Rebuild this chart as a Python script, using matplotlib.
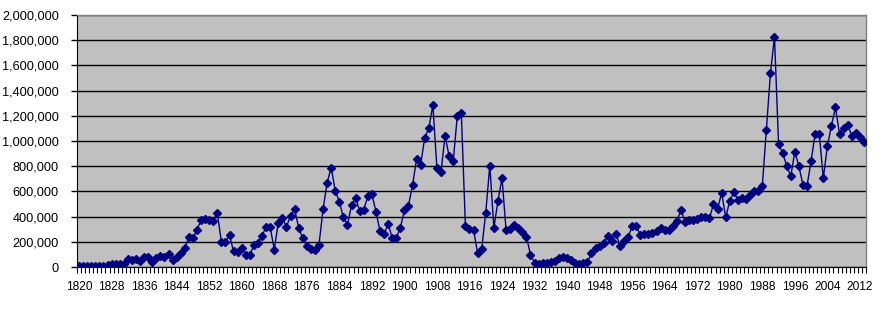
import matplotlib
matplotlib.use("Agg")
import matplotlib.pyplot as plt
from matplotlib.ticker import FuncFormatter, FixedLocator

years = list(range(1820, 2014))
immigrants = [
    8385, 9127, 6911, 6354, 7912, 10199, 10837, 18875, 27382, 22520,
    23322, 22633, 60482, 58640, 65365, 45374, 76242, 79340, 38914, 68069,
    84066, 80289, 104565, 52496, 78615, 114371, 154416, 234968, 226527, 297024,
    369980, 379466, 371603, 368645, 427833, 200877, 200436, 251306, 123126, 121282,
    153640, 91918, 91985, 176282, 193418, 248120, 318568, 315722, 138840, 352768,
    387203, 321350, 404806, 459803, 313339, 227498, 169986, 141857, 138469, 177826,
    457257, 669431, 788992, 603322, 518592, 395346, 334203, 490109, 546889, 444427,
    455302, 560319, 579663, 439730, 285631, 258536, 343267, 230832, 229299, 311715,
    448572, 487918, 648743, 857046, 812870, 1026499, 1100735, 1285349, 782870, 751786,
    1041570, 878587, 838172, 1197892, 1218480, 326700, 298826, 295403, 110618, 141132,
    430001, 805228, 309556, 522919, 706896, 294314, 304488, 335175, 307255, 279678,
    241700, 97139, 35576, 23068, 29470, 34956, 36329, 50244, 67895, 82998,
    70756, 51776, 28781, 23725, 28551, 38119, 108721, 147292, 170570, 188317,
    249187, 205717, 265520, 170434, 208177, 237790, 321625, 326867, 253265, 260686,
    265398, 271344, 283763, 306260, 292248, 296697, 323040, 361972, 454448, 358579,
    373326, 370478, 384685, 398515, 393919, 385378, 499093, 458755, 589810, 394244,
    524295, 595014, 533624, 550052, 541811, 568149, 600027, 599889, 641346, 1090172,
    1535872, 1826595, 973445, 903916, 803993, 720177, 915560, 797847, 653206, 644787,
    841002, 1058902, 1059356, 703542, 957883, 1122257, 1266129, 1052415, 1107126, 1130818,
    1042625, 1062040, 1031631, 990553,
]
y_ticks = list(range(0, 2000001, 200000))
x_label_years = list(range(1820, 2014, 8))

plt.rcParams['font.family'] = ['Liberation Sans', 'DejaVu Sans']

fig = plt.figure(figsize=(8.83, 3.18), dpi=100)
ax = fig.add_axes([77/883, 51/318, (866-77)/883, (267-15)/318])
ax.set_facecolor('#C0C0C0')

ax.plot(years, immigrants, color='#000080', lw=1.0, marker='D', markersize=3.9,
        markerfacecolor='#000080', markeredgecolor='#000080', zorder=3)

ax.set_xlim(years[0] - 0.5, years[-1] + 0.5)
ax.set_ylim(0, 2000000)
ax.set_yticks(y_ticks)
ax.yaxis.set_major_formatter(FuncFormatter(lambda v, p: f"{int(v):,}"))
ax.grid(axis='y', color='black', lw=1.0, zorder=1)
ax.set_axisbelow(True)

ax.xaxis.set_major_locator(FixedLocator(x_label_years))
ax.xaxis.set_minor_locator(FixedLocator([y - 0.5 for y in years] + [years[-1] + 0.5]))
ax.tick_params(axis='x', which='major', length=0, pad=10, labelsize=8.6)
ax.tick_params(axis='x', which='minor', length=4, width=0.8, color='black', direction='out')
ax.tick_params(axis='y', which='major', length=4, width=1, pad=9, labelsize=9.2)

for s in ['top', 'right']:
    ax.spines[s].set_color('#808080')
    ax.spines[s].set_linewidth(1)
ax.spines['left'].set_color('black')
ax.spines['bottom'].set_color('black')

fig.savefig('out.png', dpi=100, facecolor='white')
